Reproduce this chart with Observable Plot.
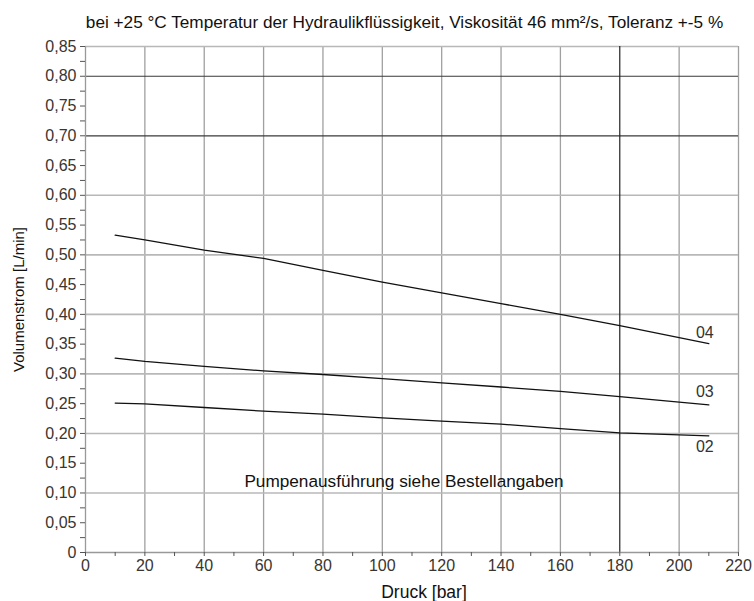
<!DOCTYPE html>
<html>
<head>
<meta charset="utf-8">
<script src="https://cdn.jsdelivr.net/npm/d3@7"></script>
<script src="https://cdn.jsdelivr.net/npm/@observablehq/plot@0.6"></script>
<style>
  html, body { margin: 0; padding: 0; background: #fff; }
</style>
</head>
<body>
<script>
// ---- data ----
const pressure = [10, 20, 40, 60, 80, 100, 120, 140, 160, 180, 210];
const q04 = [0.533, 0.525, 0.508, 0.494, 0.474, 0.454, 0.436, 0.418, 0.400, 0.381, 0.351];
const q03 = [0.3265, 0.321, 0.3125, 0.305, 0.299, 0.292, 0.285, 0.278, 0.2705, 0.262, 0.248];
const q02 = [0.251, 0.2498, 0.2436, 0.2375, 0.2325, 0.2263, 0.2207, 0.2157, 0.208, 0.201, 0.196];
const seriesNames = ["04", "03", "02"];
const xTicks = [0, 20, 40, 60, 80, 100, 120, 140, 160, 180, 200, 220];
const xMinorTicks = [10, 30, 50, 70, 90, 110, 130, 150, 170, 190, 210];
const yTicks = [0, 0.05, 0.10, 0.15, 0.20, 0.25, 0.30, 0.35, 0.40, 0.45, 0.50, 0.55, 0.60, 0.65, 0.70, 0.75, 0.80, 0.85];
const yMinorTicks = [0.025, 0.075, 0.125, 0.175, 0.225, 0.275, 0.325, 0.375, 0.425, 0.475, 0.525, 0.575, 0.625, 0.675, 0.725, 0.775, 0.825];
const xGridLight = [20, 40, 60, 80, 100, 120, 140, 160, 200, 220];
const xGridDark = [180];
const yGridLight = [0.10, 0.20, 0.30, 0.40, 0.50, 0.60, 0.85];
const yGridDark = [0.70, 0.80];
const titleText = "bei +25 °C Temperatur der Hydraulikflüssigkeit, Viskosität 46 mm²/s, Toleranz +-5 %";
const xLabel = "Druck [bar]";
const yLabel = "Volumenstrom [L/min]";
const note = {text: "Pumpenausführung siehe Bestellangaben", x: 107.3, y: 0.12};

// ---- table ----
const valuesBySeries = {"04": q04, "03": q03, "02": q02};
const rows = seriesNames.flatMap(s => pressure.map((p, i) => ({series: s, p, q: valuesBySeries[s][i]})));
const lastRows = seriesNames.map(s => ({series: s, p: pressure[pressure.length - 1], q: valuesBySeries[s][pressure.length - 1]}));
const labelDy = {"04": -11, "03": -13, "02": 11};

const fmt = d => d === 0 ? "0" : d3.format(".2f")(d).replace(".", ",");
const font = "'Liberation Sans', Arial, sans-serif";

const chart = Plot.plot({
  width: 754,
  height: 601,
  marginLeft: 85,
  marginRight: 16,
  marginTop: 46,
  marginBottom: 49,
  x: {domain: [0, 220]},
  y: {domain: [0, 0.85]},
  style: {fontFamily: font, fontSize: "16px", color: "#333", background: "#fff", overflow: "visible"},
  marks: [
    Plot.ruleX(xGridLight, {stroke: "#a0a0a0", strokeWidth: 1.3}),
    Plot.ruleY(yGridLight, {stroke: "#b8b8b8", strokeWidth: 1.6}),
    Plot.ruleY(yGridDark, {stroke: "#3a3a3a", strokeWidth: 1.2}),
    Plot.ruleX(xGridDark, {stroke: "#222", strokeWidth: 1.2}),
    Plot.ruleX([0], {stroke: "#999", strokeWidth: 1.3}),
    Plot.ruleY([0], {stroke: "#999", strokeWidth: 1.6}),
    Plot.axisX({ticks: xTicks, tickSize: 4, tickPadding: 3, tickFormat: d => String(d), label: null, stroke: "#555", fill: "#3a3530", fontSize: 16}),
    Plot.axisX({ticks: xMinorTicks, tickSize: 4, tickFormat: () => "", label: null, stroke: "#555"}),
    Plot.axisY({ticks: yTicks, tickSize: 5, tickPadding: 4, tickFormat: fmt, label: null, stroke: "#555", fill: "#3a3530", fontSize: 16}),
    Plot.axisY({ticks: yMinorTicks, tickSize: 5, tickFormat: () => "", label: null, stroke: "#555"}),
    Plot.text([note], {x: "x", y: "y", text: "text", fontSize: 17.2, fill: "#111", ariaLabel: "note"}),
    Plot.line(rows, {x: "p", y: "q", z: "series", stroke: "#111", strokeWidth: 1.3}),
    ...seriesNames.map(s => Plot.text(lastRows.filter(d => d.series === s), {x: "p", y: "q", text: "series", dx: -4, dy: labelDy[s], fontSize: 16, fill: "#333"})),
    Plot.text([titleText], {frameAnchor: "top", lineAnchor: "middle", dx: -7.5, dy: -24, fontSize: 17.2, fill: "#111"}),
    Plot.text([xLabel], {frameAnchor: "bottom", lineAnchor: "middle", dx: 12, dy: 40, fontSize: 17.5, fill: "#111"}),
    Plot.text([yLabel], {frameAnchor: "left", textAnchor: "middle", lineAnchor: "middle", dx: -66, rotate: -90, fontSize: 15, fill: "#111"})
  ]
});
document.body.append(chart);

// white background box behind the annotation
const g = chart.querySelector('[aria-label="note"]');
if (g) {
  const t = g.querySelector("text");
  const bb = t.getBBox();
  const ns = "http://www.w3.org/2000/svg";
  const r = document.createElementNS(ns, "rect");
  r.setAttribute("x", bb.x - 2);
  r.setAttribute("y", bb.y - 2);
  r.setAttribute("width", bb.width + 4);
  r.setAttribute("height", bb.height + 4);
  r.setAttribute("fill", "#fff");
  const tr = t.getAttribute("transform");
  if (tr) r.setAttribute("transform", tr);
  g.insertBefore(r, t);
}
</script>
</body>
</html>
